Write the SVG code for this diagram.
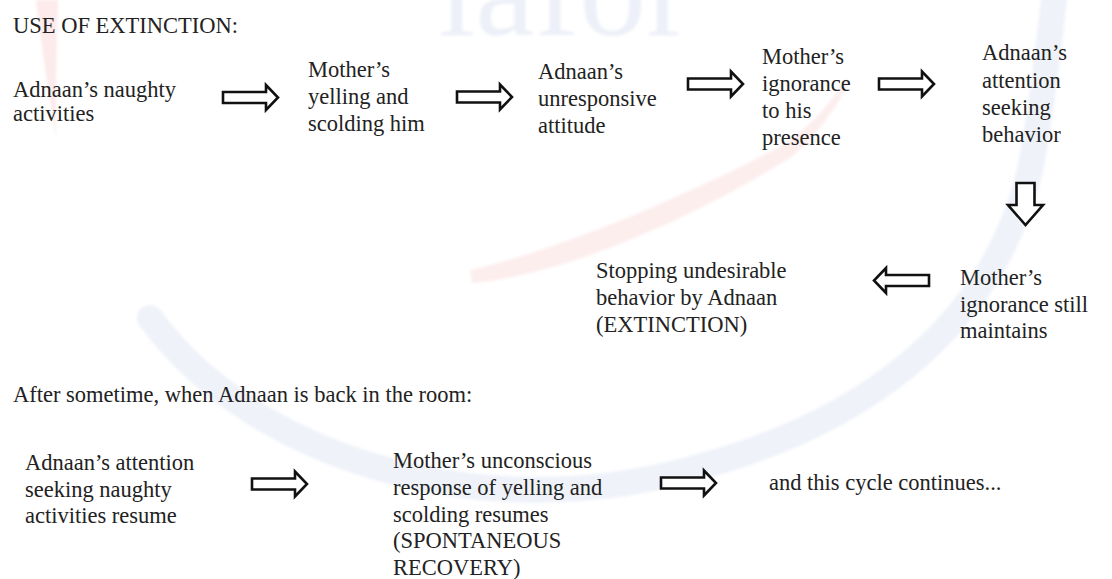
<svg xmlns="http://www.w3.org/2000/svg" width="1112" height="579" viewBox="0 0 1112 579">
  <defs>
    <style>
      text { font-family: "Liberation Serif", "Times New Roman", serif; font-size: 22.5px; fill: #222222; }
      .arrow { fill: #ffffff; stroke: #111111; stroke-width: 2.6; stroke-linejoin: miter; }
      .mark { font-family: "Liberation Serif", "Times New Roman", serif; font-size: 134px; fill: #edf0f8; }
    </style>
    <filter id="soft" x="-10%" y="-10%" width="120%" height="120%">
      <feGaussianBlur stdDeviation="1.5"/>
    </filter>
    <!-- block arrow pointing right, origin at the tail centre -->
    <path id="arrowRight" d="M0,-5.5 H43 V-12.5 L55,0 L43,12.5 V5.5 H0 Z"/>
  </defs>

  <rect width="1112" height="579" fill="#ffffff"/>

  <!-- faint background logo -->
  <g id="watermark" filter="url(#soft)">
    <text class="mark" x="438" y="35">iafor</text>
    <path d="M150,318 C250,455 470,525 680,472 C860,428 992,330 1030,170 C1042,110 1048,50 1054,0"
          fill="none" stroke="#eff2f9" stroke-width="26" stroke-linecap="round"/>
    <path d="M470,270 C560,250 700,190 788,142 C812,124 832,102 846,78 L849,82 C837,108 817,134 793,156 C705,212 566,276 472,283 Z"
          fill="#fdeeee"/>
    <path d="M36,0 L58,0 C56,50 56,100 56,138 C50,100 42,50 36,0 Z" fill="#fdeaea"/>
  </g>

  <text id="title" x="13" y="33">USE OF EXTINCTION:</text>

  <g id="n1">
    <text x="13" y="97">Adnaan’s naughty</text>
    <text x="13" y="121">activities</text>
  </g>
  <g id="n2">
    <text x="308" y="77">Mother’s</text>
    <text x="308" y="104">yelling and</text>
    <text x="308" y="131">scolding him</text>
  </g>
  <g id="n3">
    <text x="538" y="79">Adnaan’s</text>
    <text x="538" y="106">unresponsive</text>
    <text x="538" y="133">attitude</text>
  </g>
  <g id="n4">
    <text x="762" y="64">Mother’s</text>
    <text x="762" y="91">ignorance</text>
    <text x="762" y="118">to his</text>
    <text x="762" y="145">presence</text>
  </g>
  <g id="n5">
    <text x="982" y="60">Adnaan’s</text>
    <text x="982" y="88">attention</text>
    <text x="982" y="115">seeking</text>
    <text x="982" y="142">behavior</text>
  </g>
  <g id="n6">
    <text x="960" y="285">Mother’s</text>
    <text x="960" y="312">ignorance still</text>
    <text x="960" y="338">maintains</text>
  </g>
  <g id="n7">
    <text x="596" y="278">Stopping undesirable</text>
    <text x="596" y="305">behavior by Adnaan</text>
    <text x="596" y="332">(EXTINCTION)</text>
  </g>

  <text id="subtitle" x="13" y="402">After sometime, when Adnaan is back in the room:</text>

  <g id="n8">
    <text x="25" y="470">Adnaan’s attention</text>
    <text x="25" y="497">seeking naughty</text>
    <text x="25" y="523">activities resume</text>
  </g>
  <g id="n9">
    <text x="393" y="468">Mother’s unconscious</text>
    <text x="393" y="495">response of yelling and</text>
    <text x="393" y="522">scolding resumes</text>
    <text x="393" y="548">(SPONTANEOUS</text>
    <text x="393" y="575">RECOVERY)</text>
  </g>
  <g id="n10">
    <text x="769" y="490">and this cycle continues...</text>
  </g>

  <g id="connectors">
    <use href="#arrowRight" class="arrow" transform="translate(223,97.5)"/>
    <use href="#arrowRight" class="arrow" transform="translate(457,97)"/>
    <use href="#arrowRight" class="arrow" transform="translate(688,84)"/>
    <use href="#arrowRight" class="arrow" transform="translate(879,84)"/>
    <!-- downward arrow -->
    <path class="arrow" d="M-9,0 H9 V22 H17.5 L0,42 L-17.5,22 H-9 Z" transform="translate(1025.5,183)"/>
    <!-- leftward arrow -->
    <use href="#arrowRight" class="arrow" transform="translate(929,280.5) scale(-1,1)"/>
    <use href="#arrowRight" class="arrow" transform="translate(252,484)"/>
    <use href="#arrowRight" class="arrow" transform="translate(661,483)"/>
  </g>
</svg>
